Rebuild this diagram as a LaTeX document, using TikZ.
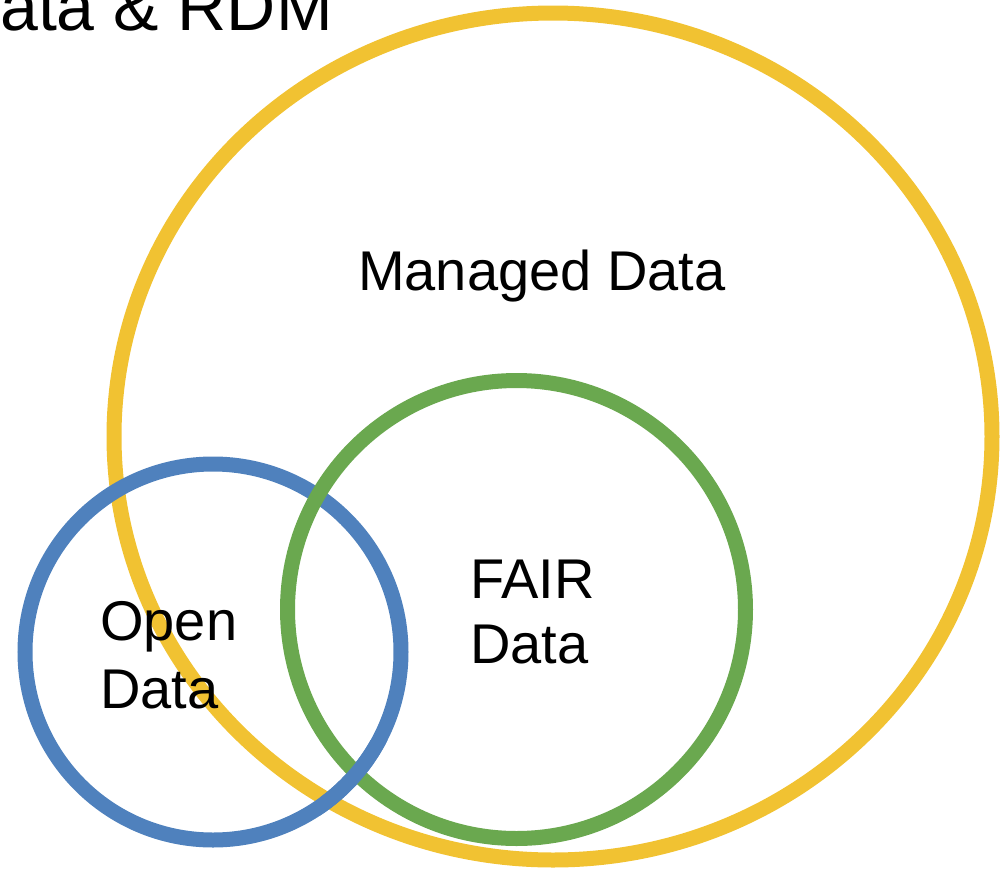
\documentclass[tikz,border=0pt]{standalone}
\usepackage{fontspec}
\setmainfont{Liberation Sans}
\definecolor{ygold}{HTML}{F1C232}
\definecolor{vgreen}{HTML}{6AA84F}
\definecolor{vblue}{HTML}{4F81BD}
\begin{document}
\begin{tikzpicture}[x=1pt,y=-1pt,
  ring/.style={line width=15pt},
  lbl/.style={font=\fontsize{56}{68}\selectfont, inner sep=0pt},
  ttl/.style={font=\fontsize{68}{80}\selectfont, inner sep=0pt}]
\useasboundingbox (0,0) rectangle (1005,871);
\draw[ring, ygold] (553,436.5) ellipse [x radius=439, y radius=423.5];
\draw[ring, vblue] (213,652) circle [radius=188];
\draw[ring, vgreen] (516.5,609.5) circle [radius=229];
\begin{scope}
  \clip (320,740) rectangle (410,830);
  \draw[ring, vblue] (213,652) circle [radius=188];
\end{scope}
\node[ttl, anchor=base east] (title) at (333,30) {Data \& RDM};
\node[lbl, anchor=base west] (managed) at (358,290) {Managed Data};
\node[lbl, anchor=base west] (open1) at (100,640) {Open};
\node[lbl, anchor=base west] (open2) at (100,708) {Data};
\node[lbl, anchor=base west] (fair1) at (470,598) {FAIR};
\node[lbl, anchor=base west] (fair2) at (470,663) {Data};
\end{tikzpicture}
\end{document}
